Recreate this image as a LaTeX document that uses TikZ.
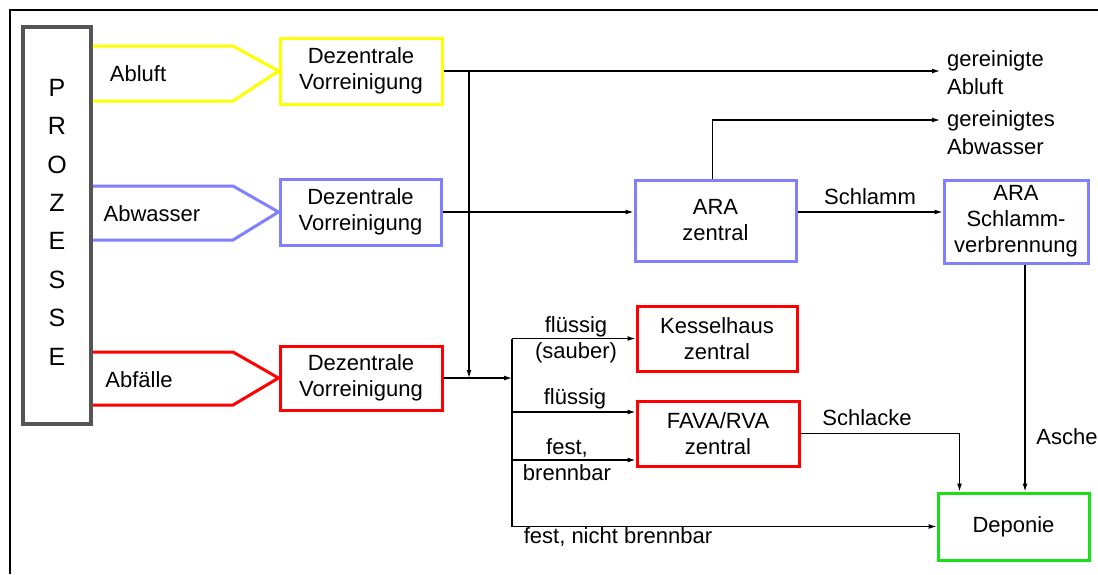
\documentclass[tikz,border=0pt]{standalone}
\usepackage{fontspec}
\setmainfont{Liberation Sans}
\usetikzlibrary{arrows.meta, calc}
\definecolor{flowY}{HTML}{FFFF00}
\definecolor{flowB}{HTML}{8080FF}
\definecolor{flowR}{HTML}{FF0000}
\definecolor{flowG}{HTML}{18E018}
\definecolor{procG}{HTML}{555555}

\begin{document}
\begin{tikzpicture}[x=1pt, y=-1pt,
  unit/.style={draw, line width=3pt, align=center, inner sep=0pt,
    font=\fontsize{22}{26}\selectfont},
  funnel/.style={line width=3pt, line join=miter},
  flow/.style={line width=1.2pt, -{Latex[length=8pt, width=5pt]}},
  trunkline/.style={line width=1.2pt},
  lbl/.style={align=center, inner sep=0pt, font=\fontsize{22}{26}\selectfont},
  outlbl/.style={align=left, inner sep=0pt, anchor=north west,
    font=\fontsize{22}{28}\selectfont}]
  \def\funnelKnee{233}
  \def\arrowGap{7}

  \useasboundingbox (0,0) rectangle (1098,574);
  \draw[line width=2.2pt] (1098,10) -- (10,10) -- (10,574);

  % ------------------------
  % sources and pretreatment
  % ------------------------

  \node[draw=procG, line width=3.5pt, minimum width=68pt, minimum height=397pt,
    inner sep=0pt, text depth=7pt, align=center, font=\fontsize{25}{38.4}\selectfont]
    (prozesse) at (57,225.5) {P\\R\\O\\Z\\E\\S\\S\\E};

  \node[unit, draw=flowY, minimum width=162pt, minimum height=66pt] (yelbox) at (361,71) {Dezentrale\\Vorreinigung};
  \node[unit, draw=flowB, minimum width=161pt, minimum height=66pt] (bluebox) at (360.5,212) {Dezentrale\\Vorreinigung};
  \node[unit, draw=flowR, minimum width=162pt, minimum height=64pt] (redbox) at (361,378) {Dezentrale\\Vorreinigung};

  \draw[funnel, flowY] (prozesse.east |- 0,46) -- (\funnelKnee,46) -- (yelbox.west) -- (\funnelKnee,101) -- (prozesse.east |- 0,101);
  \draw[funnel, flowB] (prozesse.east |- 0,186) -- (\funnelKnee,186) -- (bluebox.west) -- (\funnelKnee,240) -- (prozesse.east |- 0,240);
  \draw[funnel, flowR] (prozesse.east |- 0,352) -- (\funnelKnee,352) -- (redbox.west) -- (\funnelKnee,405) -- (prozesse.east |- 0,405);

  \node[lbl] (lblAbluft) at (138,74) {Abluft};
  \node[lbl] (lblAbwasser) at (152,214) {Abwasser};
  \node[lbl] (lblAbfaelle) at (139,380) {Abfälle};

  % ------------------------
  % central plants
  % ------------------------

  \node[unit, draw=flowB, minimum width=161pt, minimum height=81pt] (ara) at (715.5,220.5) {ARA\\zentral};
  \node[unit, draw=flowB, minimum width=144pt, minimum height=83pt] (schlamm) at (1016,221.5) {ARA\\Schlamm-\\verbrennung};
  \node[unit, draw=flowR, minimum width=160pt, minimum height=65pt] (kessel) at (717,338.5) {Kesselhaus\\zentral};
  \node[unit, draw=flowR, minimum width=162pt, minimum height=65pt] (fava) at (718,433.5) {FAVA/RVA\\zentral};
  \node[unit, draw=flowG, minimum width=151pt, minimum height=67pt] (deponie) at (1013.5,526.5) {Deponie};

  \node[outlbl] (outAbluft) at (947,50) {gereinigte\\Abluft};
  \node[outlbl] (outAbwasser) at (947,110) {gereinigtes\\Abwasser};

  % ------------------------
  % connectors
  % ------------------------

  \coordinate (junction) at (469,0);
  \coordinate (trunk) at (512,0);

  \draw[flow] (yelbox.east) -- ($(yelbox.east -| outAbluft.west) + (-\arrowGap,0)$);
  \draw[flow] (yelbox.east -| junction) -- (redbox.east -| junction);
  \draw[flow] ($(ara.north) + (-3,0)$) |- ($(outAbwasser.north west) + (-\arrowGap,10)$);
  \draw[flow] (bluebox.east) -- (bluebox.east -| ara.west);
  \draw[flow] (bluebox.east -| ara.east) -- (bluebox.east -| schlamm.west)
    node[lbl, midway, above=7pt] (lblSchlamm) {Schlamm};

  \draw[flow] (redbox.east) -- (redbox.east -| trunk);
  \draw[trunkline] (trunk |- kessel.west) -- (trunk |- deponie.west);
  \draw[flow] (trunk |- kessel.west) -- (kessel.west);
  \draw[flow] (trunk |- 0,412) -- (fava.west |- 0,412);
  \draw[flow] (trunk |- 0,460) -- (fava.west |- 0,460);
  \draw[flow] (trunk |- deponie.west) -- (deponie.west);

  \draw[flow] (fava.east) -| ($(deponie.north west) + (23,0)$);
  \draw[flow] ($(schlamm.south) + (9,0)$) coordinate (ascheTop) -- (ascheTop |- deponie.north);

  \node[lbl] (lblFluessigS) at (576,340) {flüssig\\(sauber)};
  \node[lbl] (lblFluessig) at (575,399) {flüssig};
  \node[lbl] (lblFest) at (567,460) {fest,\\brennbar};
  \node[lbl] (lblNicht) at (618,537) {fest, nicht brennbar};
  \node[lbl] (lblSchlacke) at (867,418) {Schlacke};
  \node[lbl] (lblAsche) at (1067,437) {Asche};
\end{tikzpicture}
\end{document}
